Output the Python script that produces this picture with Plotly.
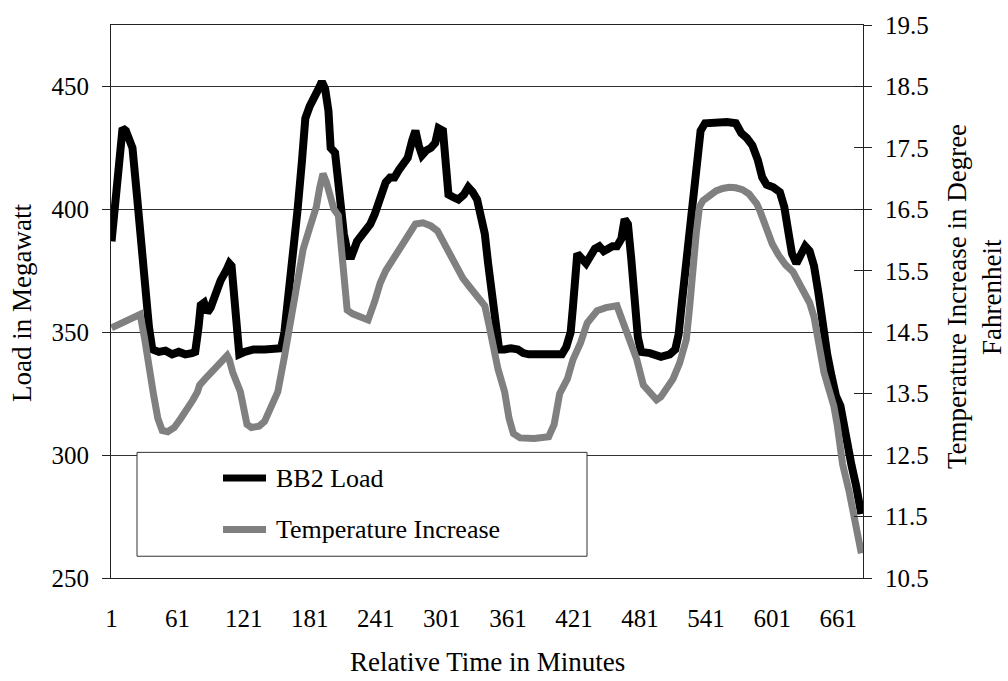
import plotly.graph_objects as go

# BB2 load (MW) read at selected minutes
load_minute = [1, 5, 9, 11, 14, 17, 20, 24, 28, 32, 35, 38, 44, 50, 56, 62, 68, 74, 77,
               80, 82, 85, 88, 91, 95, 100, 105, 108, 110, 113, 115, 117, 122, 130, 140,
               150, 155, 158, 162, 166, 170, 174, 177, 181, 185, 189, 192, 195, 198, 200,
               204, 208, 212, 216, 219, 224, 230, 236, 240, 245, 250, 254, 258, 262, 266,
               270, 274, 277, 280, 283, 287, 291, 295, 298, 302, 304, 307, 311, 316, 321,
               325, 329, 333, 336, 340, 343, 347, 350, 353, 358, 364, 370, 375, 380, 390,
               400, 410, 414, 418, 420, 422, 424, 428, 432, 436, 440, 444, 448, 452, 456,
               460, 464, 467, 470, 473, 476, 479, 482, 490, 500, 508, 513, 516, 519, 522,
               525, 529, 533, 536, 540, 550, 560, 568, 573, 578, 583, 588, 592, 596, 602,
               608, 612, 616, 619, 623, 627, 631, 635, 639, 643, 647, 651, 655, 659, 663,
               665, 669, 673, 677, 682]
load_mw = [387, 405, 428, 433, 432, 428, 425, 406, 385, 366, 352, 343, 342, 342.5, 341, 342, 341, 341.5, 342,
           352, 361, 362, 358, 360, 366, 371, 375, 378, 377, 362, 350, 341, 342, 343, 343,
           343, 343.5, 350, 365, 380, 400, 420, 437, 442, 445, 449, 452, 449, 440, 425,
           423, 405, 390, 381, 381, 387, 390, 394, 398, 405, 411, 413, 413, 416, 419,
           421, 428, 432, 426, 422, 424, 425, 427, 433, 432, 420, 406, 405, 404, 406,
           409, 407, 404, 398, 390, 378, 362, 350, 343, 343, 343.5, 343, 341.5, 341, 341,
           341, 341, 344, 350, 360, 372, 382, 380, 378, 381, 384, 385, 383, 384, 385,
           385, 388, 396, 394, 380, 362, 348, 342, 341.5, 340, 341, 343, 349, 362, 374,
           388, 402, 420, 432, 435, 435.5, 435.5, 435, 431, 429, 426, 420, 413, 410, 409,
           407, 401, 390, 382, 378, 381, 385, 383, 377, 366, 352, 341, 332, 324, 320,
           315, 303, 296, 288, 276]

# Temperature increase (deg F) read at selected minutes
temp_minute = [1, 8, 15, 22, 27, 31, 36, 39, 43, 47, 52, 58, 64, 70, 75, 79, 81, 86, 90,
               95, 101, 106, 108, 111, 118, 121, 124, 128, 135, 140, 145, 152, 158, 164,
               169, 175, 181, 187, 190, 193, 196, 199, 203, 207, 210, 213, 215, 220, 225,
               230, 234, 240, 245, 250, 256, 262, 268, 273, 277, 284, 291, 297, 303, 308,
               314, 320, 327, 333, 340, 344, 347, 352, 358, 362, 366, 372, 385, 398, 403,
               408, 415, 420, 427, 433, 442, 450, 460, 465, 471, 478, 484, 490, 496, 500,
               505, 511, 517, 523, 526, 529, 532, 535, 538, 544, 550, 556, 562, 568, 574,
               580, 587, 590, 596, 601, 607, 613, 620, 626, 631, 635, 639, 642, 645, 648,
               653, 657, 660, 665, 671, 676, 679, 682]
temp_f = [14.57, 14.63, 14.68, 14.74, 14.79, 14.4, 13.74, 13.5, 13.1, 12.9, 12.88, 12.95, 13.1, 13.25, 13.4, 13.53, 13.64, 13.74, 13.82,
          13.92, 14.03, 14.12, 14.05, 13.85, 13.53, 13.2, 13.0, 12.95, 12.97, 13.05, 13.25, 13.53, 14.1, 14.7,
          15.3, 15.85, 16.2, 16.54, 16.85, 17.08, 16.95, 16.7, 16.5, 16.4, 15.9, 15.2, 14.86, 14.8, 14.76,
          14.72, 14.7, 15.0, 15.3, 15.5, 15.67, 15.85, 16.02, 16.15, 16.26, 16.28, 16.23, 16.15, 15.95, 15.73,
          15.55, 15.38, 15.22, 15.09, 14.93, 14.6, 14.28, 13.9, 13.53, 13.1, 12.85, 12.78, 12.77, 12.8, 13.0,
          13.5, 13.74, 14.05, 14.33, 14.65, 14.85, 14.9, 14.93, 14.7, 14.4, 14.06, 13.64, 13.5, 13.4, 13.45,
          13.58, 13.74, 14.0, 14.38, 14.9, 15.62, 16.1, 16.54, 16.64, 16.72, 16.8, 16.84, 16.86, 16.85, 16.82,
          16.75, 16.59, 16.47, 16.2, 15.94, 15.75, 15.6, 15.48, 15.3, 15.12, 14.98, 14.75, 14.5, 14.15, 13.85,
          13.58, 13.3, 13.0, 12.35, 11.9, 11.4, 11.11, 10.9]

x_tick_vals = list(range(1, 662, 60))
load_tick_vals = [250, 300, 350, 400, 450]
temp_tick_vals = [10.5, 11.5, 12.5, 13.5, 14.5, 15.5, 16.5, 17.5, 18.5, 19.5]

legend_labels = ["BB2 Load", "Temperature Increase"]
line_colors = ["#000000", "#808080"]
line_widths = [8, 7]

FONT = "Liberation Serif"
AXIS_COLOR = "#222222"

# plot area in pixels (for placing titles / legend in paper coordinates)
W, H = 1008, 681
L, R, T, B = 111, 145, 19, 103
PW, PH = W - L - R, H - T - B


def px(xp):
    return (xp - L) / PW


def py(yp):
    return (H - B - yp) / PH


fig = go.Figure()
fig.add_trace(go.Scatter(x=load_minute, y=load_mw, mode="lines", name=legend_labels[0],
                         line=dict(color=line_colors[0], width=line_widths[0]), yaxis="y",
                         showlegend=False, hoverinfo="skip"))
fig.add_trace(go.Scatter(x=temp_minute, y=temp_f, mode="lines", name=legend_labels[1],
                         line=dict(color=line_colors[1], width=line_widths[1]), yaxis="y2",
                         showlegend=False, hoverinfo="skip"))
# carrier for the inner half of the right-axis tick marks
fig.add_trace(go.Scatter(x=[], y=[], yaxis="y3", showlegend=False, hoverinfo="skip"))

tick_font = dict(family=FONT, size=25, color="black")

fig.update_layout(
    width=W, height=H,
    margin=dict(l=L, r=R, t=T, b=B, pad=0),
    plot_bgcolor="white", paper_bgcolor="white",
    xaxis=dict(range=[0.5, 683.5], tickvals=x_tick_vals, showgrid=False, zeroline=False,
               showline=True, linecolor=AXIS_COLOR, linewidth=1, mirror=True,
               ticks="", tickfont=tick_font, ticklabelstandoff=18),
    yaxis=dict(range=[250, 475], tickvals=load_tick_vals, showgrid=True,
               gridcolor="#333333", gridwidth=1, zeroline=False,
               showline=True, linecolor=AXIS_COLOR, linewidth=1,
               ticks="outside", ticklen=8, tickcolor=AXIS_COLOR,
               tickfont=tick_font, ticklabelstandoff=8),
    yaxis2=dict(range=[10.5, 19.5], tickvals=temp_tick_vals, tickformat=".1f",
                overlaying="y", side="right", anchor="x", showgrid=False, zeroline=False,
                showline=True, linecolor=AXIS_COLOR, linewidth=1,
                ticks="outside", ticklen=8, tickcolor=AXIS_COLOR,
                tickfont=tick_font, ticklabelstandoff=8),
    yaxis3=dict(range=[10.5, 19.5], tickvals=temp_tick_vals,
                overlaying="y", side="right", anchor="x", showgrid=False, zeroline=False,
                showline=False, ticks="inside", ticklen=9, tickcolor=AXIS_COLOR,
                showticklabels=False),
)

title_font = dict(family=FONT, size=27, color="black")
annotations = [
    dict(text="Relative Time in Minutes", x=px(487), y=py(663), xref="paper", yref="paper",
         xanchor="center", yanchor="middle", showarrow=False, font=title_font),
    dict(text="Load in Megawatt", x=px(22), y=py(300), xref="paper", yref="paper",
         xanchor="center", yanchor="middle", textangle=-90, showarrow=False, font=title_font),
    dict(text="Temperature Increase in Degree", x=px(957), y=py(294), xref="paper", yref="paper",
         xanchor="center", yanchor="middle", textangle=-90, showarrow=False, font=title_font),
    dict(text="Fahrenheit", x=px(992), y=py(294), xref="paper", yref="paper",
         xanchor="center", yanchor="middle", textangle=-90, showarrow=False, font=title_font),
]

# legend box with line samples
legend_font = dict(family=FONT, size=26, color="black")
shapes = [
    dict(type="rect", xref="paper", yref="paper", x0=px(137), x1=px(587), y0=py(556), y1=py(451),
         line=dict(color="#333333", width=1), fillcolor="white", layer="above"),
]
for i, (label, color) in enumerate(zip(legend_labels, line_colors)):
    yy = [477, 529][i]
    shapes.append(dict(type="line", xref="paper", yref="paper", x0=px(223), x1=px(266),
                       y0=py(yy), y1=py(yy), line=dict(color=color, width=7), layer="above"))
    annotations.append(dict(text=label, x=px(274), y=py(yy), xref="paper", yref="paper",
                            xanchor="left", yanchor="middle", showarrow=False, font=legend_font))

fig.update_layout(annotations=annotations, shapes=shapes)

fig.write_html("out.html")
